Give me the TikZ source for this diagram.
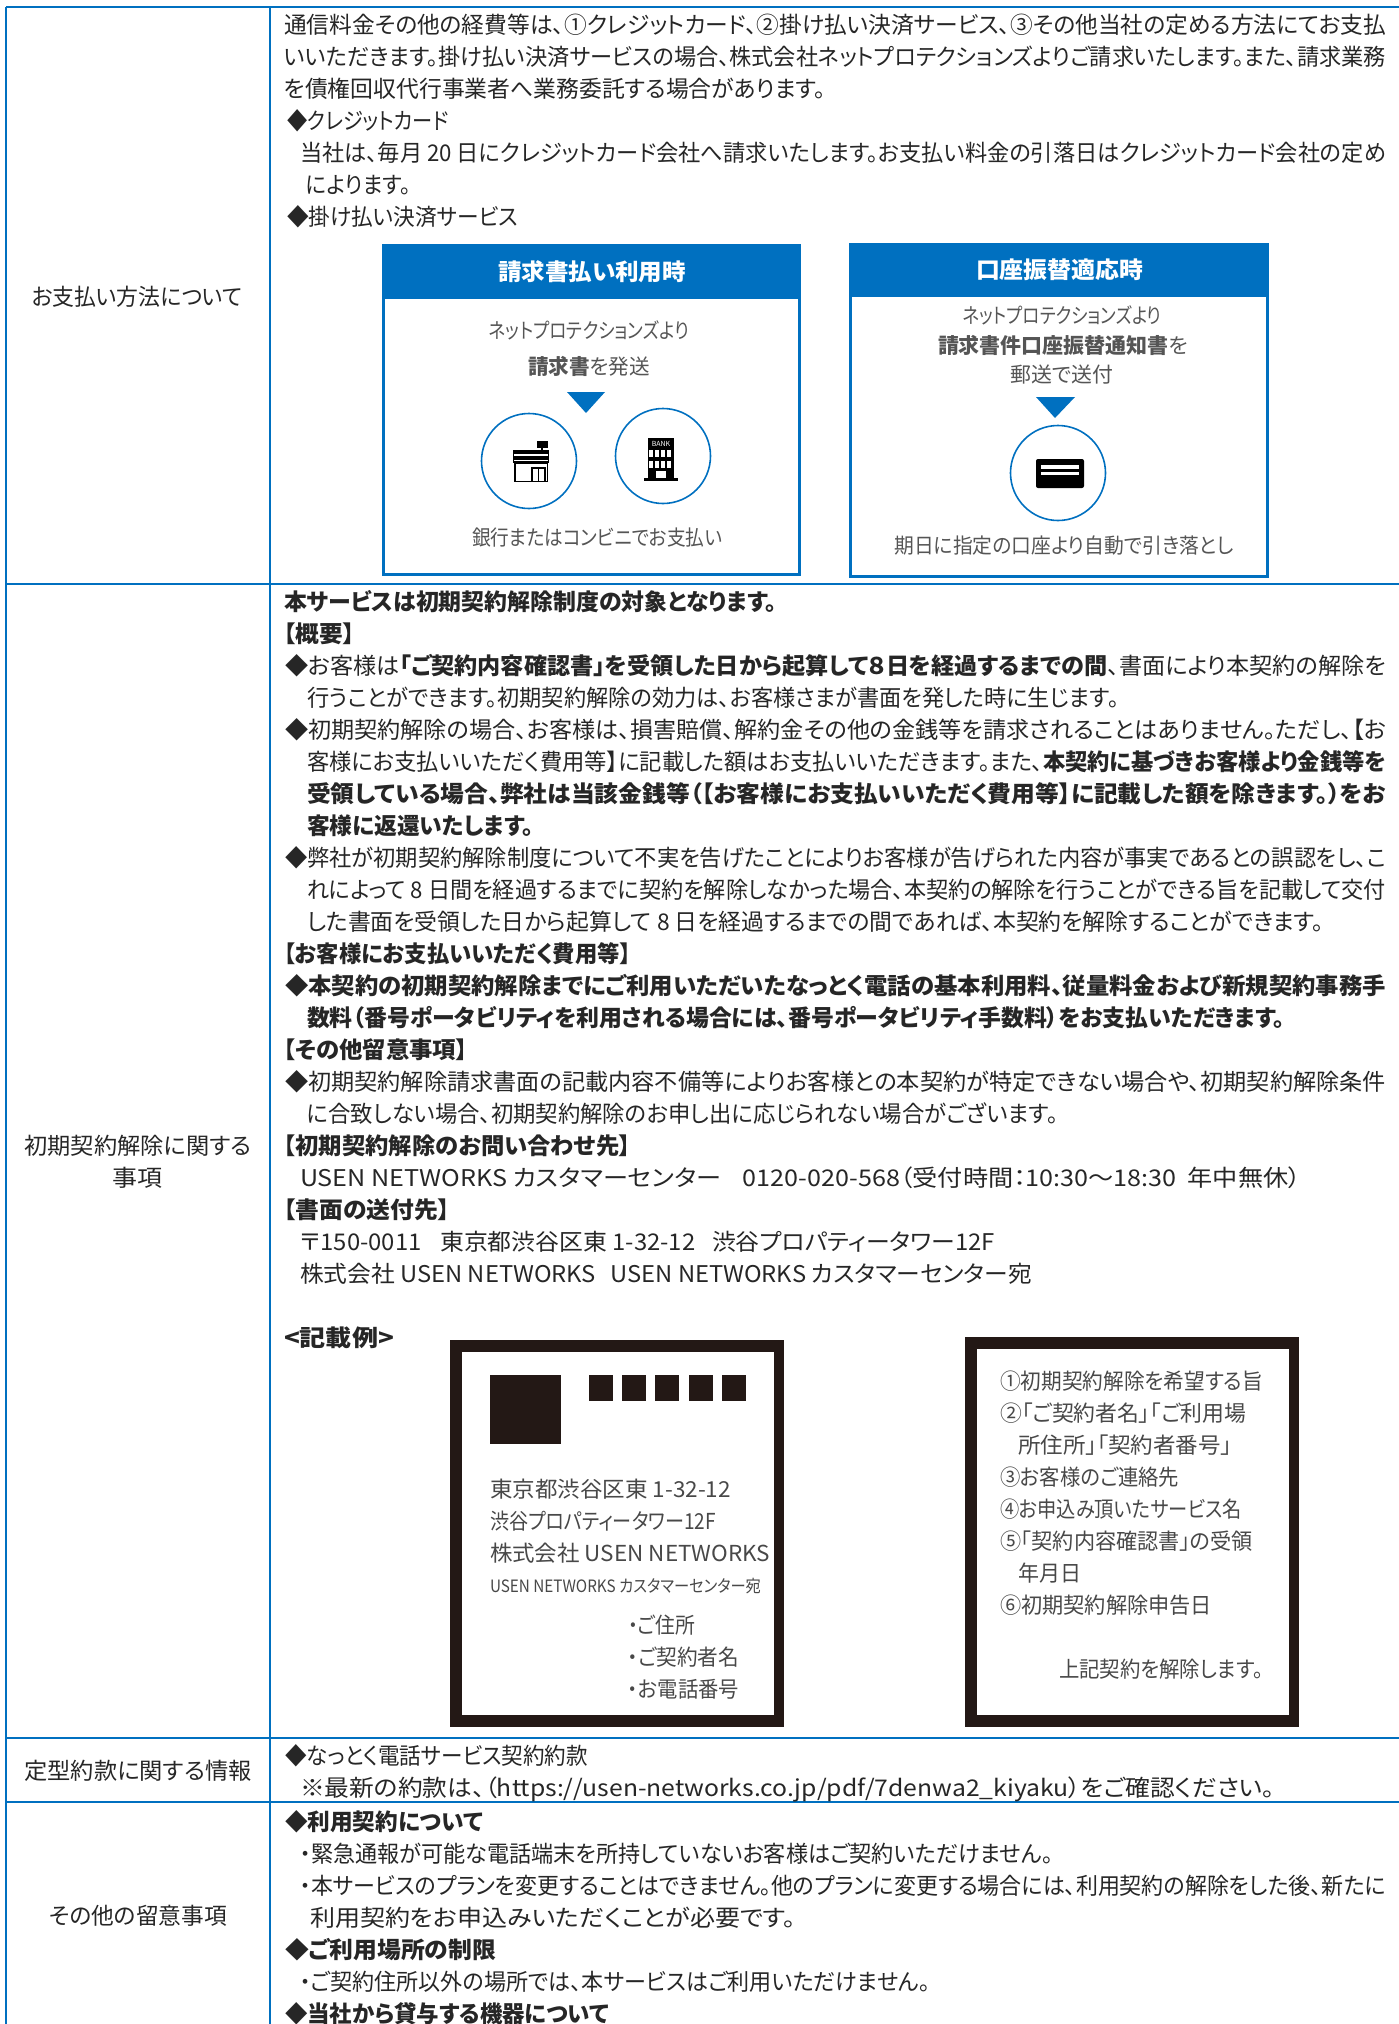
\documentclass[tikz,border=0pt]{standalone}
\usepackage{graphicx}
\usepackage{fontspec}
\setmainfont{Noto Sans CJK JP}[RawFeature=+palt]
\definecolor{tblue}{RGB}{0,112,192}
\definecolor{ink}{RGB}{35,24,21}
\definecolor{bodyink}{RGB}{38,38,38}
\definecolor{paneltxt}{RGB}{85,85,85}
\newbox\fitbox
\newcommand{\fitto}[2]{\setbox\fitbox=\hbox{#2}\pgfmathsetmacro\fitr{#1/\the\wd\fitbox}\scalebox{\fitr}[1]{\box\fitbox}}
\newcommand{\lefttext}[6][]{\pgfmathsetmacro\wtmp{#5-#3}\node[bodytxt,#1] (#2) at (#3,#4+9) {\fitto{\wtmp}{#6}};}
\newcommand{\midtext}[6][]{\node[bodytxt,anchor=base,#1] (#2) at (#3,#4+9) {\fitto{#5}{#6}};}
\tikzset{
  bodytxt/.style={anchor=base west,inner sep=0pt,outer sep=0pt,text=bodyink,font=\fontsize{23}{28}\selectfont},
  boldtxt/.style={font=\fontsize{23}{28}\selectfont\bfseries},
  rowlabel/.style={yshift=1pt},
  paneltext/.style={text=paneltxt,font=\fontsize{21}{26}\selectfont,yshift=1.2pt},
  headtext/.style={text=white,font=\fontsize{23}{28}\selectfont\bfseries},
  cardtext/.style={text=paneltxt!85!black,font=\fontsize{22}{26}\selectfont,yshift=1pt},
  tablerule/.style={draw=tblue,line width=2.2pt},
  panelbox/.style={draw=tblue,line width=3pt,fill=white},
  panelhead/.style={fill=tblue},
  ringshape/.style={draw=tblue,line width=1.6pt,fill=white},
  cardframe/.style={fill=ink},
  cardface/.style={fill=white},
  stampmark/.style={fill=ink}
}
\begin{document}
\begin{tikzpicture}[x=1pt,y=-1pt]
\useasboundingbox (0,0) rectangle (1399,2024);
% table rules
\draw[tablerule] (6,7) -- (1399,7);
\draw[tablerule] (6,584) -- (1399,584);
\draw[tablerule] (6,1738) -- (1399,1738);
\draw[tablerule] (6,1802) -- (1399,1802);
\draw[tablerule] (6,7) -- (6,2024);
\draw[tablerule] (270,7) -- (270,2024);
% left column
\midtext[rowlabel]{c1}{137}{297}{211}{お支払い方法について}
\midtext{c2a}{138}{1145}{227}{初期契約解除に関する}
\midtext{c2b}{137}{1177}{50}{事項}
\midtext{c3}{138}{1770}{227}{定型約款に関する情報}
\midtext[rowlabel]{c4}{138}{1916}{178}{その他の留意事項}
% section 1
\lefttext{a1}{284}{24}{1386}{通信料金その他の経費等は、①クレジットカード、②掛け払い決済サービス、③その他当社の定める方法にてお支払}
\lefttext{a2}{284}{56}{1386}{いいただきます。掛け払い決済サービスの場合、株式会社ネットプロテクションズよりご請求いたします。また、請求業務}
\lefttext{a3}{284}{88}{826}{を債権回収代行事業者へ業務委託する場合があります。}
\lefttext{a4}{287}{120}{449}{◆クレジットカード}
\lefttext{a5}{300}{152}{1386}{当社は、毎月 20 日にクレジットカード会社へ請求いたします。お支払い料金の引落日はクレジットカード会社の定め}
\lefttext{a6}{306}{184}{411}{によります。}
\lefttext{a7}{287}{216}{518}{◆掛け払い決済サービス}
% left panel
\fill[panelbox] (383.5,245.5) rectangle (799.5,574.5);
\fill[panelhead] (382,244) rectangle (801,299);
\draw[panelbox,fill=none] (383.5,245.5) rectangle (799.5,574.5);
\midtext[headtext]{h1}{592}{271}{188}{請求書払い利用時}
\midtext[paneltext]{p1}{589}{331}{200}{ネットプロテクションズより}
\midtext[paneltext]{p2}{589}{367}{122}{{\bfseries 請求書}を発送}
\fill[tblue] (567,392) -- (605,392) -- (586,413) -- cycle;
\draw[ringshape] (529,461) circle (47.5);
\draw[ringshape] (663,456) circle (47.5);
\midtext[paneltext]{p3}{597}{538}{250}{銀行またはコンビニでお支払い}
% store icon
\fill[black] (540.5,446) rectangle (542.5,452);
\fill[black] (537,441) rectangle (548,448);
\fill[black] (513,450) rectangle (549,463);
\fill[white] (514,454) rectangle (548,456);
\fill[white] (514,459.5) rectangle (548,461);
\draw[black,line width=1.4pt] (515,463) rectangle (547.5,481.5);
\draw[black,line width=1.2pt] (532,468) rectangle (545,481.5);
\draw[black,line width=1pt] (538.5,468) -- (538.5,481.5);
% bank icon
\fill[black] (647.5,438) rectangle (674,478);
\fill[black] (644,478) rectangle (678,481);
\node[inner sep=0pt,text=white,font=\fontsize{7}{8}\selectfont] (bank) at (661,444) {BANK};
\foreach \cx in {651,657,663,669}{
  \fill[white] (\cx-1.6,450) rectangle (\cx+1.6,457);
  \fill[white] (\cx-1.6,461) rectangle (\cx+1.6,468);
}
\fill[white] (656,471) rectangle (666,478);
% right panel
\fill[panelbox] (850.5,244.5) rectangle (1267.5,576.5);
\fill[panelhead] (849,243) rectangle (1269,297);
\draw[panelbox,fill=none] (850.5,244.5) rectangle (1267.5,576.5);
\midtext[headtext]{h2}{1059.5}{269}{167}{口座振替適応時}
\midtext[paneltext]{q1}{1062}{316}{199}{ネットプロテクションズより}
\midtext[paneltext]{q2}{1063}{346}{250}{{\bfseries 請求書件口座振替通知書}を}
\midtext[paneltext]{q3}{1062}{375}{103}{郵送で送付}
\fill[tblue] (1036,397) -- (1075,397) -- (1055,418) -- cycle;
\draw[ringshape] (1058,473) circle (47.5);
\fill[black,rounded corners=2pt] (1036,459) rectangle (1084,488);
\fill[white] (1041,465) rectangle (1079,469);
\fill[white] (1041,472) rectangle (1079,475);
\midtext[paneltext]{q4}{1064}{546}{339}{期日に指定の口座より自動で引き落とし}
% section 2
\lefttext[boldtxt]{b1}{284}{601}{777}{本サービスは初期契約解除制度の対象となります。}
\lefttext[boldtxt]{b2}{284}{633}{355}{【概要】}
\lefttext{b3}{285}{665}{1386}{◆お客様は{\bfseries 「ご契約内容確認書」を受領した日から起算して８日を経過するまでの間}、書面により本契約の解除を}
\lefttext{b4}{307}{697}{1119}{行うことができます。初期契約解除の効力は、お客様さまが書面を発した時に生じます。}
\lefttext{b5}{285}{729}{1386}{◆初期契約解除の場合、お客様は、損害賠償、解約金その他の金銭等を請求されることはありません。ただし、【お}
\lefttext{b6}{307}{761}{1386}{客様にお支払いいただく費用等】に記載した額はお支払いいただきます。また、{\bfseries 本契約に基づきお客様より金銭等を}}
\lefttext[boldtxt]{b7}{307}{793}{1386}{受領している場合、弊社は当該金銭等（【お客様にお支払いいただく費用等】に記載した額を除きます。）をお}
\lefttext[boldtxt]{b8}{307}{825}{534}{客様に返還いたします。}
\lefttext{b9}{285}{857}{1386}{◆弊社が初期契約解除制度について不実を告げたことによりお客様が告げられた内容が事実であるとの誤認をし、こ}
\lefttext{b10}{307}{889}{1386}{れによって 8 日間を経過するまでに契約を解除しなかった場合、本契約の解除を行うことができる旨を記載して交付}
\lefttext{b11}{307}{921}{1324}{した書面を受領した日から起算して 8 日を経過するまでの間であれば、本契約を解除することができます。}
\lefttext[boldtxt]{b12}{284}{953}{631}{【お客様にお支払いいただく費用等】}
\lefttext[boldtxt]{b13}{285}{985}{1386}{◆本契約の初期契約解除までにご利用いただいたなっとく電話の基本利用料、従量料金および新規契約事務手}
\lefttext[boldtxt]{b14}{307}{1017}{1285}{数料（番号ポータビリティを利用される場合には、番号ポータビリティ手数料）をお支払いただきます。}
\lefttext[boldtxt]{b15}{284}{1049}{468}{【その他留意事項】}
\lefttext{b16}{285}{1081}{1386}{◆初期契約解除請求書面の記載内容不備等によりお客様との本契約が特定できない場合や、初期契約解除条件}
\lefttext{b17}{307}{1113}{1058}{に合致しない場合、初期契約解除のお申し出に応じられない場合がございます。}
\lefttext[boldtxt]{b18}{284}{1145}{631}{【初期契約解除のお問い合わせ先】}
\lefttext{b19}{300}{1177}{1301}{USEN NETWORKS カスタマーセンター\hspace{20pt}0120-020-568（受付時間：10:30～18:30\hspace{10pt}年中無休）}
\lefttext[boldtxt]{b20}{284}{1209}{450}{【書面の送付先】}
\lefttext{b21}{300}{1241}{995}{〒150-0011\hspace{18pt}東京都渋谷区東 1-32-12\hspace{16pt}渋谷プロパティータワー12F}
\lefttext{b22}{300}{1273}{1032}{株式会社 USEN NETWORKS\hspace{14pt}USEN NETWORKS カスタマーセンター宛}
\lefttext[boldtxt]{b23}{284}{1337}{394}{<記載例>}
% left card
\fill[cardframe] (450,1340) rectangle (784,1727);
\fill[cardface] (462,1352) rectangle (774,1715);
\fill[stampmark] (490,1375) rectangle (561,1444);
\foreach \sx in {589,622,655,689,722}{\fill[stampmark] (\sx,1375) rectangle (\sx+24,1401);}
\lefttext[cardtext]{k1}{490}{1489}{731}{東京都渋谷区東 1-32-12}
\lefttext[cardtext]{k2}{490}{1521}{716}{渋谷プロパティータワー12F}
\lefttext[cardtext]{k3}{490}{1553}{770}{株式会社 USEN NETWORKS}
\lefttext[cardtext,font=\fontsize{17}{20}\selectfont,yshift=3pt]{k4}{490}{1587}{761}{USEN NETWORKS カスタマーセンター宛}
\lefttext[cardtext]{k5}{628}{1625}{695}{・ご住所}
\lefttext[cardtext]{k6}{628}{1657}{739}{・ご契約者名}
\lefttext[cardtext]{k7}{628}{1689}{739}{・お電話番号}
% right card
\fill[cardframe] (965,1337) rectangle (1299,1727);
\fill[cardface] (977,1349) rectangle (1289,1715);
\lefttext[cardtext]{m1}{1000}{1381}{1263}{①初期契約解除を希望する旨}
\lefttext[cardtext]{m2}{1000}{1413}{1246}{②「ご契約者名」「ご利用場}
\lefttext[cardtext]{m3}{1018}{1445}{1232}{所住所」「契約者番号」}
\lefttext[cardtext]{m4}{1000}{1477}{1179}{③お客様のご連絡先}
\lefttext[cardtext]{m5}{1000}{1509}{1242}{④お申込み頂いたサービス名}
\lefttext[cardtext]{m6}{1000}{1541}{1253}{⑤「契約内容確認書」の受領}
\lefttext[cardtext]{m7}{1018}{1573}{1081}{年月日}
\lefttext[cardtext]{m8}{1000}{1605}{1212}{⑥初期契約解除申告日}
\lefttext[cardtext]{m9}{1059}{1669}{1263}{上記契約を解除します。}
% section 3
\lefttext{d1}{285}{1755}{588}{◆なっとく電話サービス契約約款}
\lefttext{d2}{300}{1787}{1275}{※最新の約款は、（https://usen-networks.co.jp/pdf/7denwa2\_kiyaku）をご確認ください。}
% section 4
\lefttext[boldtxt]{e1}{285}{1821}{483}{◆利用契約について}
\lefttext{e2}{300}{1853}{1053}{・緊急通報が可能な電話端末を所持していないお客様はご契約いただけません。}
\lefttext{e3}{300}{1885}{1386}{・本サービスのプランを変更することはできません。他のプランに変更する場合には、利用契約の解除をした後、新たに}
\lefttext{e4}{310}{1917}{796}{利用契約をお申込みいただくことが必要です。}
\lefttext[boldtxt]{e5}{285}{1949}{496}{◆ご利用場所の制限}
\lefttext{e6}{300}{1981}{930}{・ご契約住所以外の場所では、本サービスはご利用いただけません。}
\lefttext[boldtxt]{e7}{285}{2013}{609}{◆当社から貸与する機器について}
\end{tikzpicture}
\end{document}
